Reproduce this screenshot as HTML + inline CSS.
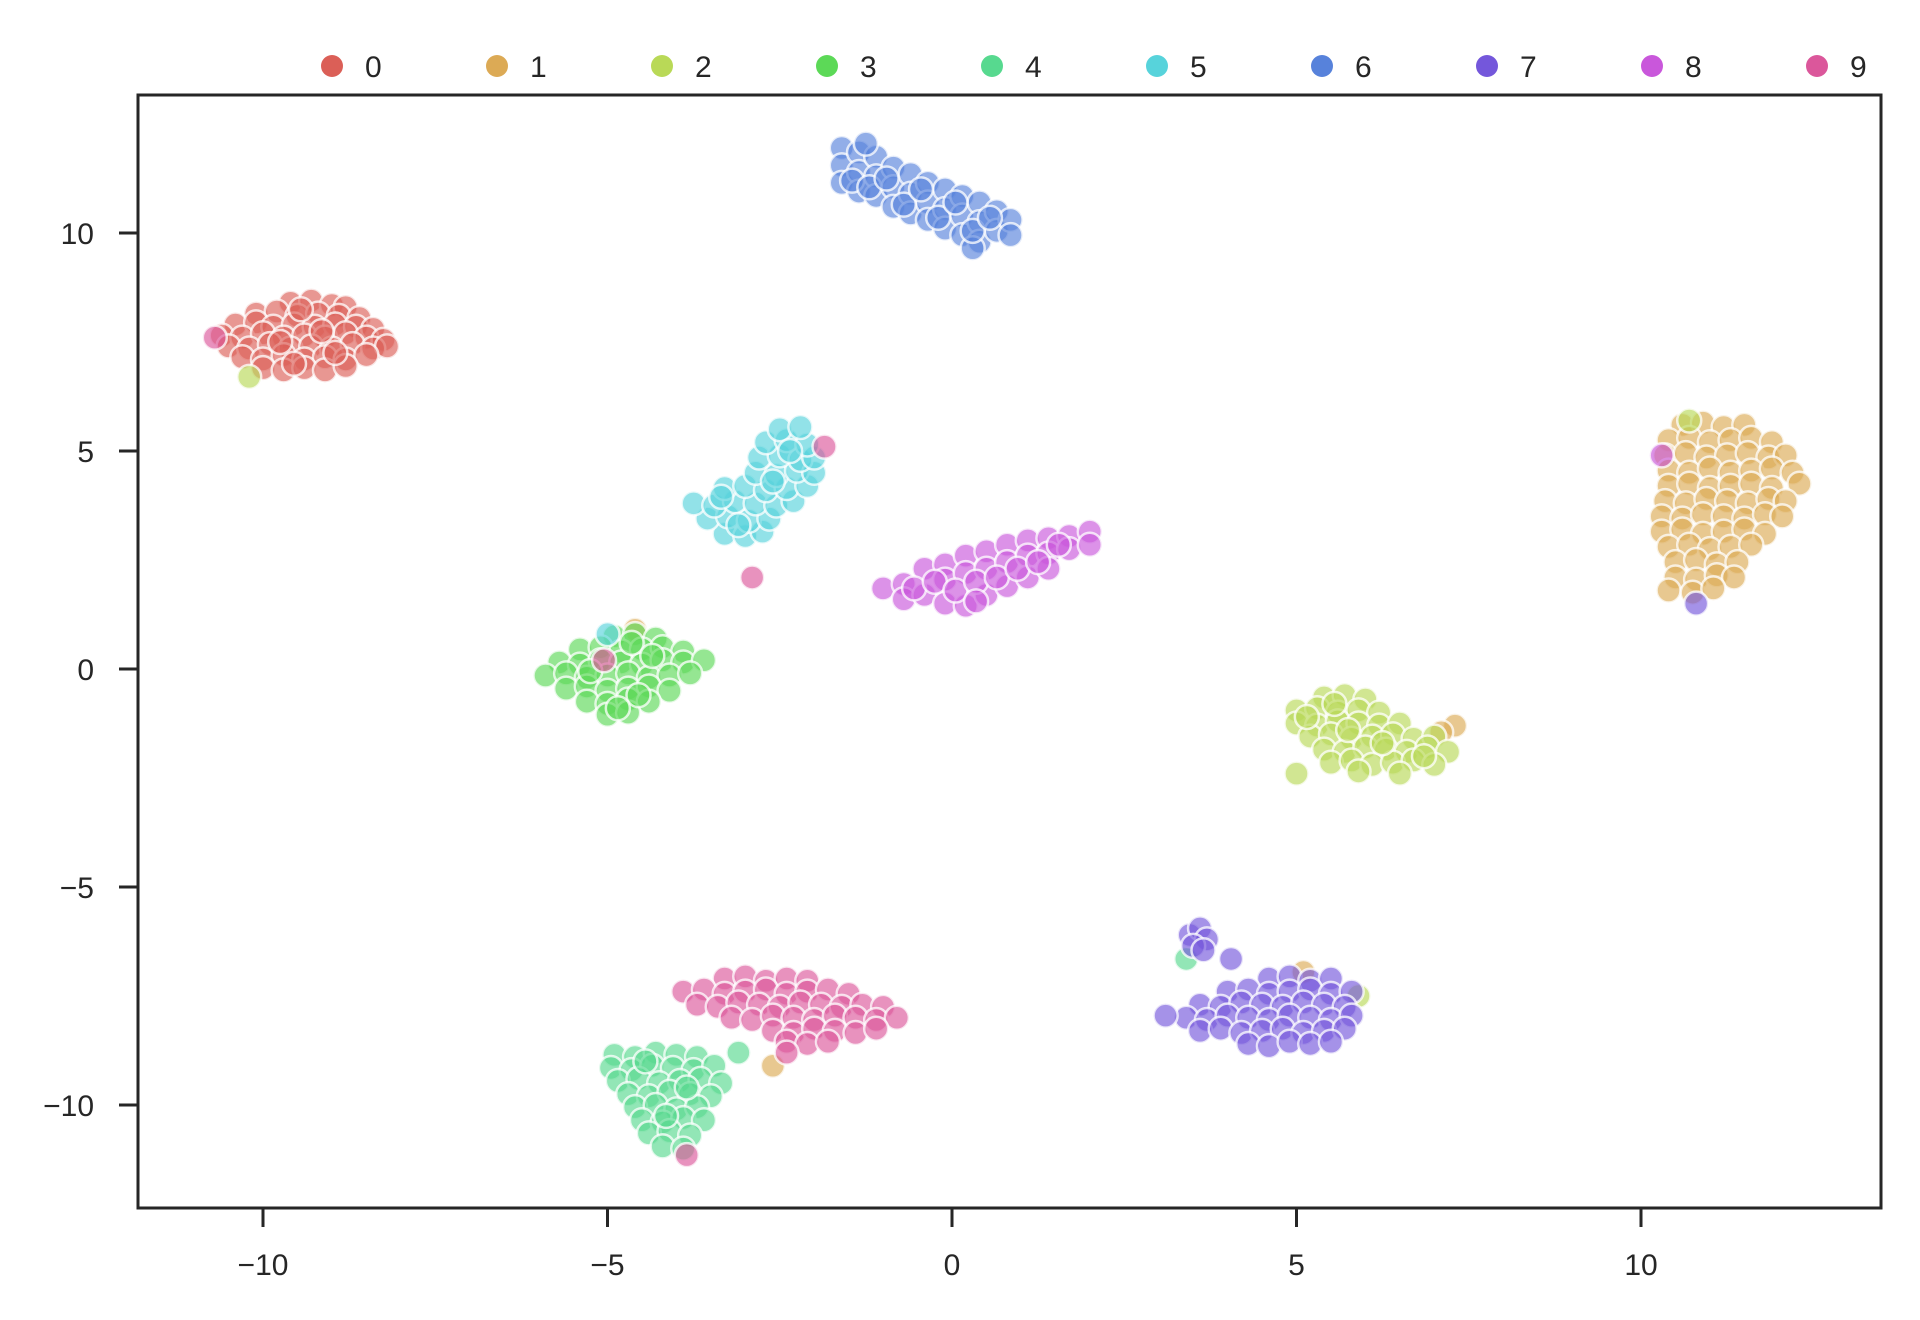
<!DOCTYPE html>
<html><head><meta charset="utf-8">
<style>
html,body{margin:0;padding:0;background:#fff;}
svg{display:block;font-family:"Liberation Sans",sans-serif;}
</style></head>
<body>
<svg id="chart" width="1920" height="1320" viewBox="0 0 1920 1320" xmlns="http://www.w3.org/2000/svg">
<g id="points"></g>
<rect x="138" y="95" width="1743" height="1113" fill="none" stroke="#262626" stroke-width="3"/>
<g id="xaxis"></g>
<g id="yaxis"></g>
<g id="legend"></g>
</svg>
<script>
const classLabels = ["0","1","2","3","4","5","6","7","8","9"];
const classColors = ["#db5f57","#dcaa55","#b9d957","#5cd957","#57d98f","#57d3db","#5782db","#7457db","#c957db","#db579b"];
const xTicks = [-10,-5,0,5,10];
const yTicks = [-10,-5,0,5,10];
const xTickLabels = ["\u221210","\u22125","0","5","10"];
const yTickLabels = ["\u221210","\u22125","0","5","10"];

const cls0 = [[-9.6,8.4],[-9.3,8.45],[-9.0,8.35],[-8.8,8.3],[-10.1,8.15],[-9.8,8.2],[-9.5,8.1],[-9.2,8.15],[-8.9,8.1],[-8.6,8.05],
[-10.4,7.9],[-10.1,7.95],[-9.85,7.85],[-9.55,7.9],[-9.25,7.85],[-8.95,7.9],[-8.65,7.85],[-8.4,7.8],
[-10.6,7.65],[-10.3,7.6],[-10.0,7.7],[-9.7,7.6],[-9.4,7.65],[-9.1,7.6],[-8.8,7.7],[-8.5,7.6],[-8.25,7.55],
[-10.5,7.4],[-10.2,7.35],[-9.9,7.45],[-9.6,7.35],[-9.3,7.4],[-9.0,7.35],[-8.7,7.45],[-8.4,7.35],[-8.2,7.4],
[-10.3,7.15],[-10.0,7.1],[-9.7,7.2],[-9.4,7.1],[-9.1,7.15],[-8.8,7.1],[-8.5,7.2],
[-10.0,6.9],[-9.7,6.85],[-9.4,6.9],[-9.1,6.85],[-8.8,6.95],[-9.45,8.25],[-9.15,7.75],[-9.75,7.5],[-8.95,7.25],[-9.55,7.0]];
const cls1 = [[10.6,5.6],[10.9,5.65],[11.2,5.55],[11.5,5.6],[10.4,5.25],[10.7,5.3],[11.0,5.2],[11.3,5.25],[11.6,5.3],[11.9,5.2],
[10.35,4.9],[10.65,4.95],[10.95,4.85],[11.25,4.9],[11.55,4.95],[11.85,4.85],[12.1,4.9],
[10.4,4.55],[10.7,4.5],[11.0,4.6],[11.3,4.5],[11.6,4.55],[11.9,4.6],[12.2,4.5],
[10.4,4.2],[10.7,4.25],[11.0,4.15],[11.3,4.2],[11.6,4.25],[11.9,4.15],[12.3,4.25],
[10.35,3.85],[10.65,3.8],[10.95,3.9],[11.25,3.85],[11.55,3.8],[11.85,3.9],[12.1,3.85],
[10.3,3.5],[10.6,3.45],[10.9,3.55],[11.2,3.5],[11.5,3.45],[11.8,3.55],[12.05,3.5],
[10.3,3.15],[10.6,3.2],[10.9,3.1],[11.2,3.15],[11.5,3.2],[11.8,3.1],
[10.4,2.8],[10.7,2.85],[11.0,2.75],[11.3,2.8],[11.6,2.85],
[10.5,2.45],[10.8,2.5],[11.1,2.4],[11.4,2.45],[10.5,2.1],[10.8,2.05],[11.1,2.15],[11.35,2.1],
[10.4,1.8],[10.75,1.75],[11.05,1.85],[-2.6,-9.1],[-4.6,0.9],[7.3,-1.3],[7.1,-1.45],[5.1,-6.95]];
const cls2 = [[5.4,-0.65],[5.7,-0.6],[6.0,-0.7],[5.0,-0.95],[5.3,-0.9],[5.6,-1.0],[5.9,-0.95],[6.2,-1.0],
[5.0,-1.25],[5.3,-1.3],[5.6,-1.2],[5.9,-1.25],[6.2,-1.3],[6.5,-1.25],
[5.2,-1.55],[5.5,-1.5],[5.8,-1.6],[6.1,-1.55],[6.4,-1.5],[6.7,-1.6],[7.0,-1.55],
[5.4,-1.85],[5.7,-1.9],[6.0,-1.8],[6.3,-1.85],[6.6,-1.9],[6.9,-1.8],[7.2,-1.9],
[5.5,-2.15],[5.8,-2.1],[6.1,-2.2],[6.4,-2.15],[6.7,-2.1],[7.0,-2.2],[5.9,-2.35],[6.5,-2.4],
[5.55,-0.8],[5.15,-1.1],[5.75,-1.4],[6.25,-1.7],[6.85,-2.0],
[5.0,-2.4],[10.7,5.7],[5.9,-7.5],[-10.2,6.7]];
const cls3 = [[-4.9,0.75],[-4.6,0.8],[-4.3,0.7],[-5.4,0.45],[-5.1,0.5],[-4.8,0.4],[-4.5,0.45],[-4.2,0.5],[-3.9,0.4],
[-5.7,0.15],[-5.4,0.1],[-5.1,0.2],[-4.8,0.15],[-4.5,0.1],[-4.2,0.2],[-3.9,0.15],[-3.6,0.2],
[-5.9,-0.15],[-5.6,-0.1],[-5.3,-0.2],[-5.0,-0.15],[-4.7,-0.1],[-4.4,-0.2],[-4.1,-0.15],[-3.8,-0.1],
[-5.6,-0.45],[-5.3,-0.4],[-5.0,-0.5],[-4.7,-0.45],[-4.4,-0.4],[-4.1,-0.5],
[-5.3,-0.75],[-5.0,-0.8],[-4.7,-0.7],[-4.4,-0.75],[-5.0,-1.05],[-4.7,-1.0],
[-4.65,0.6],[-4.35,0.3],[-5.25,-0.05],[-4.55,-0.6],[-4.85,-0.9]];
const cls4 = [[-4.9,-8.85],[-4.6,-8.9],[-4.3,-8.8],[-4.0,-8.85],[-3.7,-8.9],[-3.1,-8.8],
[-4.95,-9.15],[-4.65,-9.2],[-4.35,-9.1],[-4.05,-9.15],[-3.75,-9.2],[-3.45,-9.1],
[-4.85,-9.45],[-4.55,-9.4],[-4.25,-9.5],[-3.95,-9.45],[-3.65,-9.4],[-3.35,-9.5],
[-4.7,-9.75],[-4.4,-9.8],[-4.1,-9.7],[-3.8,-9.75],[-3.5,-9.8],
[-4.6,-10.05],[-4.3,-10.0],[-4.0,-10.1],[-3.7,-10.05],[-4.5,-10.35],[-4.2,-10.4],[-3.9,-10.3],[-3.6,-10.35],
[-4.4,-10.65],[-4.1,-10.6],[-3.8,-10.7],[-4.2,-10.95],[-3.9,-11.0],[-4.45,-9.0],[-3.85,-9.6],[-4.15,-10.25],[3.4,-6.65]];
const cls5 = [[-3.3,3.1],[-3.0,3.05],[-2.75,3.15],[-3.55,3.45],[-3.25,3.5],[-2.95,3.4],[-2.65,3.45],
[-3.75,3.8],[-3.45,3.75],[-3.15,3.85],[-2.85,3.8],[-2.55,3.75],[-2.3,3.85],
[-3.3,4.15],[-3.0,4.2],[-2.7,4.1],[-2.4,4.15],[-2.1,4.2],[-2.85,4.5],[-2.55,4.45],[-2.25,4.55],[-2.0,4.5],
[-2.8,4.85],[-2.5,4.9],[-2.2,4.8],[-2.0,4.85],[-2.7,5.2],[-2.4,5.25],[-2.1,5.15],[-2.5,5.5],[-2.2,5.55],
[-3.1,3.3],[-3.35,3.95],[-2.6,4.3],[-2.35,5.0],[-5.0,0.8]];
const cls6 = [[-1.6,11.95],[-1.6,11.55],[-1.6,11.15],[-1.35,11.85],[-1.35,11.4],[-1.35,10.95],[-1.1,11.75],[-1.1,11.3],[-1.1,10.85],
[-0.85,11.5],[-0.85,11.05],[-0.85,10.6],[-0.6,11.35],[-0.6,10.9],[-0.6,10.45],[-0.35,11.15],[-0.35,10.7],[-0.35,10.3],
[-0.1,11.0],[-0.1,10.55],[-0.1,10.1],[0.15,10.85],[0.15,10.4],[0.15,9.95],[0.4,10.7],[0.4,10.25],[0.4,9.8],
[0.65,10.5],[0.65,10.05],[0.85,10.3],[0.85,9.95],[-1.25,12.05],[0.3,9.65],
[-1.45,11.2],[-1.2,11.05],[-0.95,11.25],[-0.7,10.65],[-0.45,11.0],[-0.2,10.35],[0.05,10.7],[0.3,10.05],[0.55,10.35]];
const cls7 = [[4.6,-7.1],[4.9,-7.05],[5.2,-7.15],[5.5,-7.1],[4.0,-7.4],[4.3,-7.35],[4.6,-7.45],[4.9,-7.4],[5.2,-7.35],[5.5,-7.45],[5.8,-7.4],
[3.6,-7.7],[3.9,-7.75],[4.2,-7.65],[4.5,-7.7],[4.8,-7.75],[5.1,-7.65],[5.4,-7.7],[5.7,-7.75],
[3.4,-8.0],[3.7,-8.05],[4.0,-7.95],[4.3,-8.0],[4.6,-8.05],[4.9,-7.95],[5.2,-8.0],[5.5,-8.05],[5.8,-7.95],
[3.6,-8.3],[3.9,-8.25],[4.2,-8.35],[4.5,-8.3],[4.8,-8.25],[5.1,-8.35],[5.4,-8.3],[5.7,-8.25],
[4.3,-8.6],[4.6,-8.65],[4.9,-8.55],[5.2,-8.6],[5.5,-8.55],
[3.45,-6.1],[3.6,-5.95],[3.7,-6.2],[3.5,-6.35],[3.65,-6.45],[3.1,-7.95],[4.05,-6.65],[10.8,1.5]];
const cls8 = [[-1.0,1.85],[-0.7,1.95],[-0.7,1.6],[-0.4,2.3],[-0.4,1.7],[-0.1,2.4],[-0.1,2.05],[-0.1,1.5],[0.2,2.6],[0.2,2.2],[0.2,1.45],
[0.5,2.7],[0.5,2.3],[0.5,1.7],[0.8,2.85],[0.8,2.45],[0.8,1.9],[1.1,2.95],[1.1,2.6],[1.1,2.1],[1.4,3.0],[1.4,2.65],[1.4,2.3],
[1.7,3.05],[1.7,2.75],[2.0,3.15],[2.0,2.85],
[-0.55,1.85],[-0.25,2.0],[0.05,1.8],[0.35,2.0],[0.65,2.1],[0.95,2.3],[1.25,2.45],[1.55,2.85],[0.35,1.55],[10.3,4.9]];
const cls9 = [[-3.3,-7.1],[-3.0,-7.05],[-2.7,-7.15],[-2.4,-7.1],[-2.1,-7.15],
[-3.9,-7.4],[-3.6,-7.35],[-3.3,-7.45],[-3.0,-7.4],[-2.7,-7.35],[-2.4,-7.45],[-2.1,-7.4],[-1.8,-7.35],[-1.5,-7.45],
[-3.7,-7.7],[-3.4,-7.75],[-3.1,-7.65],[-2.8,-7.7],[-2.5,-7.75],[-2.2,-7.65],[-1.9,-7.7],[-1.6,-7.75],[-1.3,-7.7],[-1.0,-7.75],
[-3.2,-8.0],[-2.9,-8.05],[-2.6,-7.95],[-2.3,-8.0],[-2.0,-8.05],[-1.7,-7.95],[-1.4,-8.0],[-1.1,-8.05],[-0.8,-8.0],
[-2.6,-8.3],[-2.3,-8.35],[-2.0,-8.25],[-1.7,-8.3],[-1.4,-8.35],[-1.1,-8.25],[-2.4,-8.55],[-2.1,-8.6],[-1.8,-8.55],
[-2.4,-8.8],[-10.7,7.6],[-1.85,5.1],[-2.9,2.1],[-3.85,-11.15],[-5.05,0.2]];
const classPoints = [cls0,cls1,cls2,cls3,cls4,cls5,cls6,cls7,cls8,cls9];

const NS = "http://www.w3.org/2000/svg";
function xs(v){ return 952 + 68.9*v; }
function ys(v){ return 669 - 43.6*v; }
function mk(tag, attrs){ const e=document.createElementNS(NS,tag); for(const k in attrs) e.setAttribute(k,attrs[k]); return e; }

const pg = document.getElementById("points");
classPoints.forEach((pts,ci)=>{
  pts.forEach(p=>{
    const c = mk("circle",{cx:xs(p[0]),cy:ys(p[1]),r:12,fill:classColors[ci],"fill-opacity":0.65,stroke:"#ffffff","stroke-opacity":0.75,"stroke-width":2.5});
    
    
    pg.appendChild(c);
  });
});

const xa = document.getElementById("xaxis");
xTicks.forEach((t,i)=>{
  const l = mk("line",{x1:xs(t),x2:xs(t),y1:1208,y2:1227,stroke:"#262626","stroke-width":3});
  
  
  xa.appendChild(l);
  const tx = mk("text",{x:xs(t),y:1275,"text-anchor":"middle","font-size":30,fill:"#262626"});
  tx.textContent = xTickLabels[i];
  
  
  xa.appendChild(tx);
});
const ya = document.getElementById("yaxis");
yTicks.forEach((t,i)=>{
  const l = mk("line",{x1:119,x2:138,y1:ys(t),y2:ys(t),stroke:"#262626","stroke-width":3});
  
  
  ya.appendChild(l);
  const tx = mk("text",{x:94,y:ys(t)+11,"text-anchor":"end","font-size":30,fill:"#262626"});
  tx.textContent = yTickLabels[i];
  
  
  ya.appendChild(tx);
});
const lg = document.getElementById("legend");
classLabels.forEach((lab,i)=>{
  const cx = 332 + 165*i;
  const g = mk("g",{});
  
  
  const c = mk("circle",{cx:cx,cy:66,r:11,fill:classColors[i]});
  
  
  const tx = mk("text",{x:cx+33,y:77,"font-size":30,fill:"#262626"});
  tx.textContent = lab;
  
  
  g.appendChild(c); g.appendChild(tx); lg.appendChild(g);
});
</script>
</body></html>
